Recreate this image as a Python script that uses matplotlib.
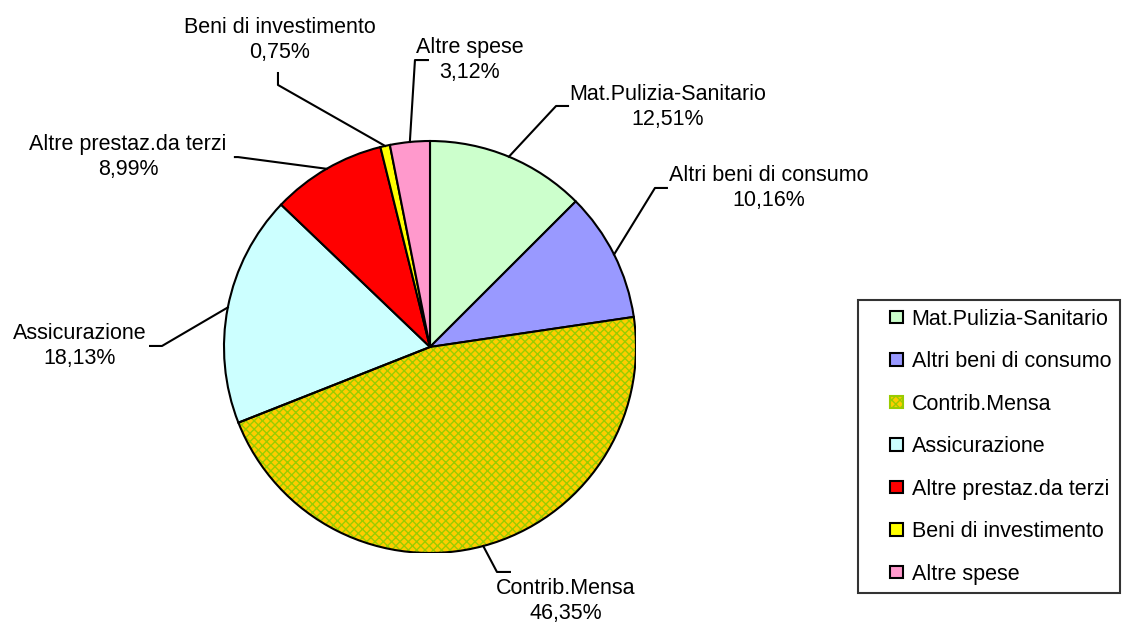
import numpy as np
import matplotlib
matplotlib.use('Agg')
import matplotlib.pyplot as plt
from matplotlib.patches import Patch, Wedge, Rectangle
from matplotlib.legend_handler import HandlerPatch

plt.rcParams['font.family'] = ['Liberation Sans', 'DejaVu Sans']

# data
categories = ['Mat.Pulizia-Sanitario', 'Altri beni di consumo', 'Contrib.Mensa',
              'Assicurazione', 'Altre prestaz.da terzi', 'Beni di investimento',
              'Altre spese']
percent = [12.51, 10.16, 46.35, 18.13, 8.99, 0.75, 3.12]
pct_labels = ['12,51%', '10,16%', '46,35%', '18,13%', '8,99%', '0,75%', '3,12%']
colors = ['#CCFFCC', '#9999FF', '#FFCC00', '#CCFFFF', '#FF0000', '#FFFF00', '#FF99CC']

# label layout (data units, radius = 1)
text_pos = [(1.155, 1.165), (1.646, 0.772), (0.660, -1.233), (-1.699, 0.005),
            (-1.466, 0.922), (-0.728, 1.490), (0.194, 1.393)]
elbow = [((0.612, 1.170), (0.670, 1.170)),
         ((1.092, 0.772), (1.150, 0.772)),
         ((0.325, -1.092), (0.388, -1.092)),
         ((-1.301, 0.005), (-1.359, 0.005)),
         ((-0.932, 0.922), (-0.947, 0.922)),
         ((-0.738, 1.272), (-0.738, 1.330)),
         ((-0.073, 1.393), (-0.010, 1.393))]

FS = 15.5

fig = plt.figure(figsize=(11.27, 6.23), dpi=100)
ax = fig.add_axes([(430 - 206) / 1127, (623 - 347 - 206) / 623, 412 / 1127, 412 / 623])

wedges, _ = ax.pie(percent, colors=colors, startangle=90, counterclock=False,
                   radius=1, wedgeprops=dict(edgecolor='black', linewidth=1.5))

# crosshatch pattern for Contrib.Mensa
w = wedges[2]
w.set_hatch('xxxx')
w.set_edgecolor('#99CC00')
w.set_linewidth(0)
ax.add_patch(Wedge(w.center, w.r, w.theta1, w.theta2, fill=False,
                   edgecolor='black', linewidth=1.5, zorder=3))

for i, wd in enumerate(wedges):
    ang = np.deg2rad((wd.theta1 + wd.theta2) / 2)
    px, py = np.cos(ang), np.sin(ang)
    (ex, ey), (fx, fy) = elbow[i]
    ax.plot([px, ex, fx], [py, ey, fy], color='black', lw=1.5, clip_on=False)
    ax.text(text_pos[i][0], text_pos[i][1], categories[i] + '\n' + pct_labels[i],
            ha='center', va='center', fontsize=FS, linespacing=1.3)

ax.set_xlim(-1, 1)
ax.set_ylim(-1, 1)
ax.set_aspect('equal')
ax.axis('off')


def small_square(legend, orig_handle, xdescent, ydescent, width, height, fontsize):
    s = 0.58 * fontsize
    return Rectangle((width - s - xdescent, (height - s) / 2 - ydescent), s, s)


handles = [Patch(facecolor=c, edgecolor='black', linewidth=1.5) for c in colors]
handles[2] = Patch(facecolor='#FFCC00', edgecolor='#99CC00', hatch='xxxx', linewidth=1.5)
leg = fig.legend(handles, categories, loc='upper left',
                 bbox_to_anchor=(858 / 1127, 1 - 300 / 623), fontsize=FS,
                 frameon=True, fancybox=False, edgecolor='black',
                 handlelength=1.67, handleheight=0.7, handletextpad=0.42,
                 labelspacing=1.0, borderpad=0.4, borderaxespad=0,
                 handler_map={Patch: HandlerPatch(patch_func=small_square)})
leg.get_frame().set_linewidth(1.5)

fig.savefig('out.png', dpi=100)
